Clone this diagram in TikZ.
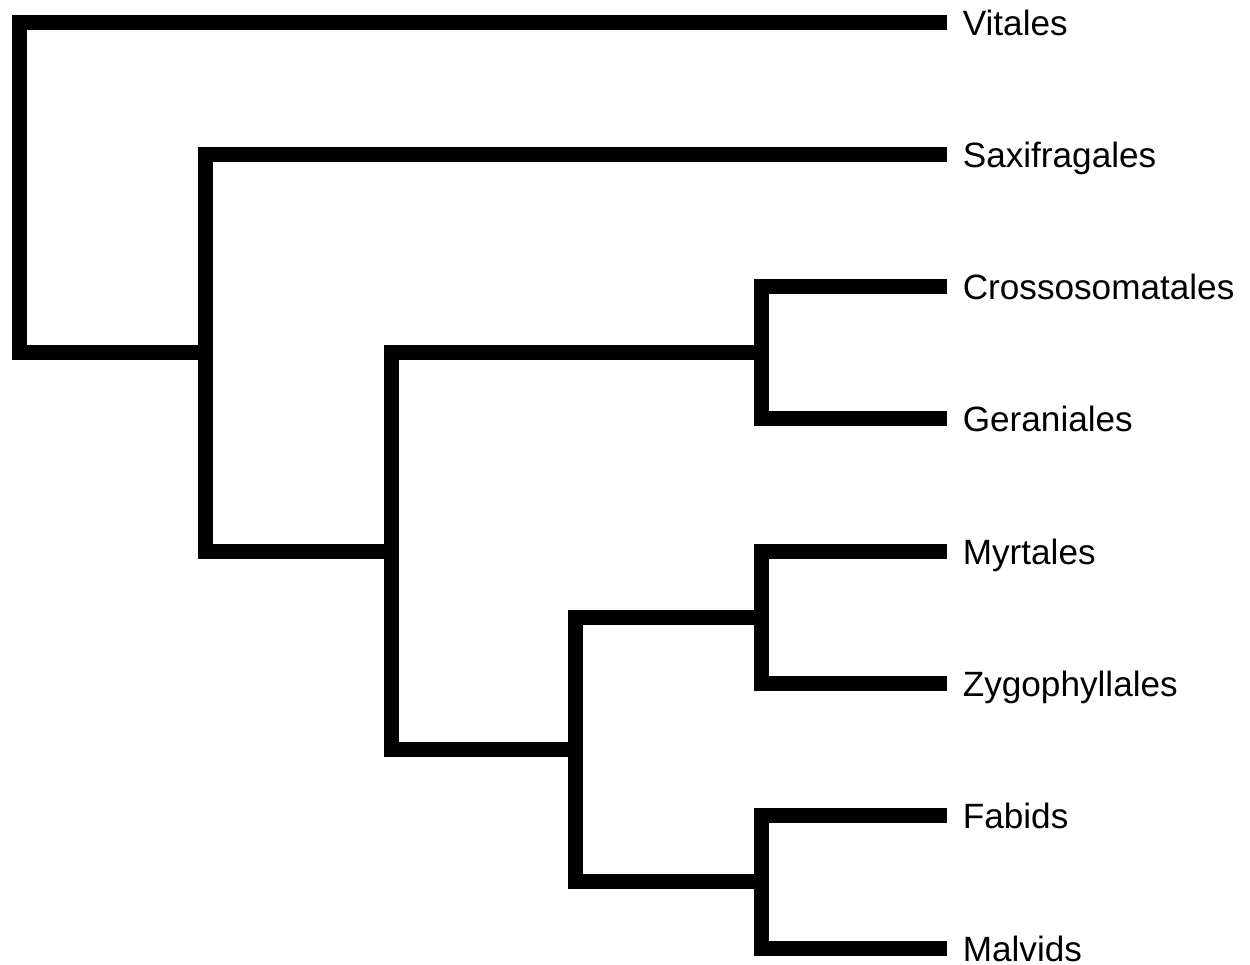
\documentclass[tikz,border=0pt]{standalone}
\usepackage{fontspec}
\setmainfont{Liberation Sans}

\begin{document}
\begin{tikzpicture}[branch/.style={line width=0.3cm},
        taxon/.style={anchor=west, inner xsep=0.32cm, inner ysep=0pt,
            text height=14.8pt, text depth=0pt, font=\fontsize{20}{24}\selectfont}]
        \useasboundingbox (0,0) rectangle (25,-19.28);
        % leaves
        \foreach \name/\lab [count=\i from 0] in {vit/Vitales, sax/Saxifragales,
            cro/Crossosomatales, ger/Geraniales, myr/Myrtales, zyg/Zygophyllales,
            fab/Fabids, mal/Malvids}
        \node[taxon] (\name) at (18.93,{-0.44-2.646*\i}) {\lab};
        % inner nodes
        \coordinate (root) at (0.39,-3.748);
        \coordinate (n2) at (4.1,-7.055);
        \coordinate (n3) at (7.82,-11.024);
        \coordinate (cg) at (15.22,-7.055);
        \coordinate (n5) at (11.5,-14.993);
        \coordinate (mz) at (15.22,-12.347);
        \coordinate (fm) at (15.22,-17.639);
        \draw[branch] (vit.west) -| (root) |- (n2);
        \draw[branch] (sax.west) -| (n2) |- (n3);
        \draw[branch] (cg) -| (n3) |- (n5);
        \draw[branch] (cro.west) -| (cg) |- (ger.west);
        \draw[branch] (mz) -| (n5) |- (fm);
        \draw[branch] (myr.west) -| (mz) |- (zyg.west);
        \draw[branch] (fab.west) -| (fm) |- (mal.west);
    \end{tikzpicture}
\end{document}
